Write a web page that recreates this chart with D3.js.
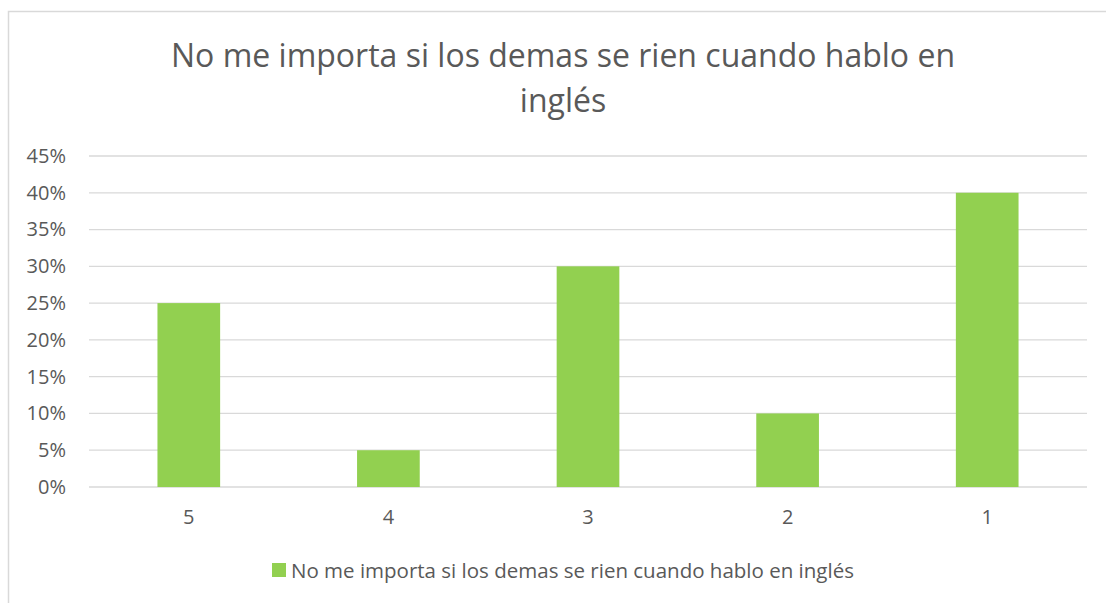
<!DOCTYPE html>
<html>
<head>
<meta charset="utf-8">
<script src="https://cdn.jsdelivr.net/npm/d3@7"></script>
<style>
    body { margin: 0; background: #fff; }
    text { font-family: "Open Sans", sans-serif; fill: #595959; }
</style>
</head>
<body>
<div id="chart"></div>
<script>
// data
const categories = ["5", "4", "3", "2", "1"]
const values = [0.25, 0.05, 0.30, 0.10, 0.40]
const yTicks = [0, 0.05, 0.10, 0.15, 0.20, 0.25, 0.30, 0.35, 0.40, 0.45]
const seriesName = "No me importa si los demas se rien cuando hablo en inglés"
const titleLines = ["No me importa si los demas se rien cuando hablo en", "inglés"]

const GREEN = "#92D050"
const GRID = "#D9D9D9"

let width = 1106, height = 603
let margin = { top: 156, right: 19, bottom: 116, left: 89 }
let innerW = width - margin.left - margin.right
let innerH = height - margin.top - margin.bottom

let svg = d3.select("#chart").append("svg")
    .attr("width", width)
    .attr("height", height)

// chart area border
svg.append("rect")
    .attr("x", 8.5).attr("y", 11.5)
    .attr("width", 1110).attr("height", 640)
    .attr("fill", "white")
    .attr("stroke", GRID)
    .attr("stroke-width", 1.5)

// title
svg.append("text")
    .attr("text-anchor", "middle")
    .attr("font-size", "32px")
    .selectAll("tspan")
    .data(titleLines)
    .enter().append("tspan")
    .attr("x", 563)
    .attr("y", (d, i) => 67 + i * 45)
    .text(d => d)

let g = svg.append("g")
    .attr("transform", "translate(" + margin.left + "," + margin.top + ")")

// scales
let x = d3.scaleBand()
    .domain(categories)
    .range([0, innerW])
    .paddingInner(0.686)
    .paddingOuter(0.343)

let y = d3.scaleLinear()
    .domain([0, 0.45])
    .range([innerH, 0])

// gridlines
g.selectAll(".grid")
    .data(yTicks)
    .enter().append("line")
    .attr("class", "grid")
    .attr("x1", 0).attr("x2", innerW)
    .attr("y1", d => y(d)).attr("y2", d => y(d))
    .attr("stroke", GRID)
    .attr("stroke-width", 1.3)

// y axis
let yAxis = d3.axisLeft(y)
    .tickValues(yTicks)
    .tickFormat(d3.format(".0%"))
    .tickSize(0)
    .tickPadding(23)

g.append("g")
    .attr("class", "y-axis")
    .call(yAxis)
    .call(a => a.select(".domain").remove())
    .selectAll("text")
    .attr("font-size", "20px")
    .attr("font-family", "Open Sans, sans-serif")
    .attr("fill", "#595959")

// x axis
let xAxis = d3.axisBottom(x)
    .tickSize(0)
    .tickPadding(23)

g.append("g")
    .attr("class", "x-axis")
    .attr("transform", "translate(0," + innerH + ")")
    .call(xAxis)
    .call(a => a.select(".domain").remove())
    .selectAll("text")
    .attr("font-size", "20px")
    .attr("font-family", "Open Sans, sans-serif")
    .attr("fill", "#595959")

// bars
g.selectAll(".bar")
    .data(values)
    .enter().append("rect")
    .attr("class", "bar")
    .attr("x", (d, i) => x(categories[i]))
    .attr("y", d => y(d))
    .attr("width", x.bandwidth())
    .attr("height", d => innerH - y(d))
    .attr("fill", GREEN)

// legend
let legend = svg.append("g")
    .attr("transform", "translate(272,563)")

legend.append("rect")
    .attr("width", 14).attr("height", 14)
    .attr("fill", GREEN)

legend.append("text")
    .attr("x", 19)
    .attr("y", 14.5)
    .attr("font-size", "20.5px")
    .text(seriesName)
</script>
</body>
</html>
